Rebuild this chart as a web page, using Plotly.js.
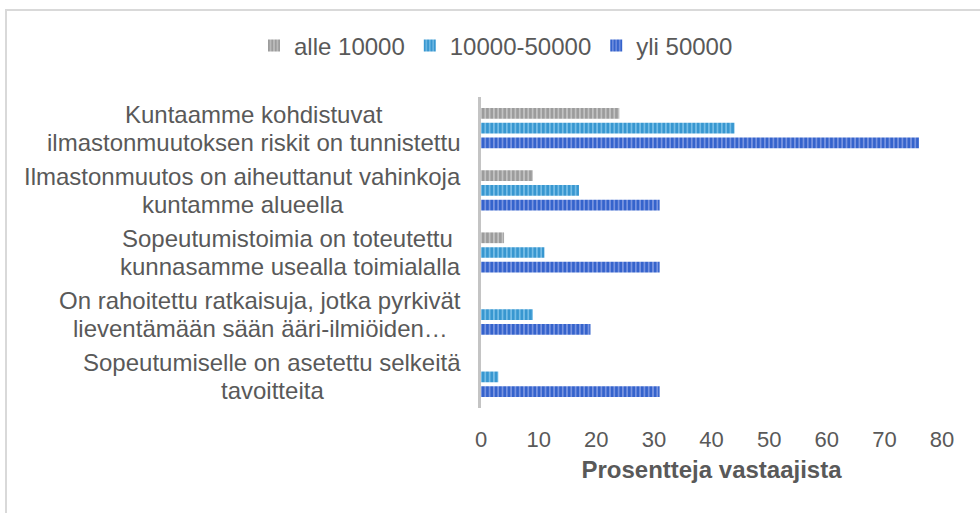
<!DOCTYPE html>
<html><head><meta charset="utf-8">
<script src="https://cdn.plot.ly/plotly-3.0.1.min.js"></script>
<style>
html,body{margin:0;padding:0;background:#fff;}
#wrap{position:relative;width:980px;height:513px;overflow:hidden;}
#frame{position:absolute;left:5px;top:9px;width:1200px;height:800px;border-top:2px solid #d9d9d9;border-left:2px solid #d9d9d9;pointer-events:none;}
#chart{position:absolute;left:0;top:0;width:980px;height:513px;}
</style></head>
<body><div id="wrap"><div id="chart"></div><div id="frame"></div></div>
<script>
const categories = [
  ["Kuntaamme kohdistuvat", "ilmastonmuutoksen riskit on tunnistettu"],
  ["Ilmastonmuutos on aiheuttanut vahinkoja", "kuntamme alueella"],
  ["Sopeutumistoimia on toteutettu ", "kunnasamme usealla toimialalla"],
  ["On rahoitettu ratkaisuja, jotka pyrkivät", "lieventämään sään ääri-ilmiöiden…"],
  ["Sopeutumiselle on asetettu selkeitä", "tavoitteita"]
];
const seriesNames = ["alle 10000", "10000-50000", "yli 50000"];
const alle10000 = [24, 9, 4, 0, 0];
const v10000_50000 = [44, 17, 11, 9, 3];
const yli50000 = [76, 31, 31, 19, 31];
const xTicks = [0, 10, 20, 30, 40, 50, 60, 70, 80];

const FONT = "Liberation Sans, Arial, sans-serif";
const LABEL_SIZE = 24;
const values = [alle10000, v10000_50000, yli50000];
const darkCols = ["#9c9c9c", "#3897d0", "#3563cc"];
const lightCols = ["#c2c2c2", "#76bde6", "#7894e0"];
const keys = categories.map((c, i) => "c" + i);

const traces = [];
for (let s = 2; s >= 0; s--) {
  traces.push({
    type: "bar", orientation: "h",
    name: seriesNames[s],
    y: keys, x: values[s],
    marker: {color: lightCols[s], line: {width: 0},
      pattern: {shape: "|", fgcolor: darkCols[s], bgcolor: lightCols[s], size: 4.3, solidity: 0.6, fillmode: "replace"}},
    hoverinfo: "x+name"
  });
}

const cv = document.createElement("canvas").getContext("2d");
cv.font = LABEL_SIZE + "px 'Liberation Sans'";
const marginL = 481, marginT = 97, plotW = 980 - 481 - 38, plotH = 513 - 97 - 105;
const rightEdge = 461, pitch = 28;
const annotations = [];
categories.forEach((lines, i) => {
  const maxW = Math.max(...lines.map(t => cv.measureText(t).width));
  const cx = (rightEdge - maxW / 2 - marginL) / plotW;
  lines.forEach((t, j) => {
    annotations.push({
      xref: "paper", yref: "y", x: cx, y: keys[i],
      xanchor: "center", yanchor: "middle", align: "center",
      yshift: (lines.length - 1) * pitch / 2 - j * pitch,
      text: t, showarrow: false,
      font: {family: FONT, size: LABEL_SIZE, color: "#595959"}
    });
  });
});

const legendLeftPx = 254, legendMidPx = 46;
const layout = {
  width: 980, height: 513,
  margin: {l: marginL, r: 38, t: marginT, b: 105},
  paper_bgcolor: "#ffffff", plot_bgcolor: "#ffffff",
  font: {family: FONT, color: "#595959"},
  barmode: "group", bargap: 0.29, bargroupgap: 0.27,
  showlegend: true,
  legend: {orientation: "h", traceorder: "reversed", xref: "paper", yref: "paper",
    x: (legendLeftPx - marginL) / plotW, y: (marginT + plotH - legendMidPx) / plotH,
    xanchor: "left", yanchor: "middle",
    font: {size: 24, color: "#595959"}, itemwidth: 30},
  xaxis: {range: [0, 80], tickvals: xTicks, ticktext: xTicks.map(String),
    showgrid: false, zeroline: false, showline: false,
    ticks: "outside", ticklen: 12, tickcolor: "rgba(0,0,0,0)",
    tickfont: {size: 22, color: "#595959"},
    title: {text: "<b>Prosentteja vastaajista</b>", font: {size: 24, color: "#595959"}, standoff: 9}},
  yaxis: {categoryorder: "array", categoryarray: keys.slice().reverse(),
    showticklabels: false, showgrid: false, zeroline: false,
    showline: true, linecolor: "#c4c4c4", linewidth: 3, ticks: ""},
  annotations: annotations
};

Plotly.newPlot("chart", traces, layout, {displayModeBar: false, staticPlot: true});
</script></body></html>
